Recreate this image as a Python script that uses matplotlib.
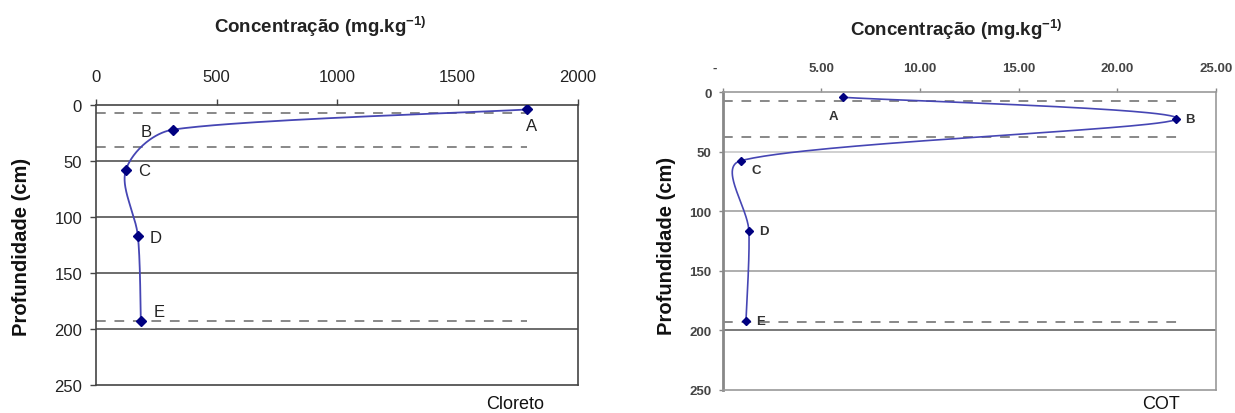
import numpy as np
import matplotlib
matplotlib.use('Agg')
import matplotlib.pyplot as plt

plt.rcParams['font.family'] = ['Liberation Sans', 'DejaVu Sans']
plt.rcParams['mathtext.default'] = 'regular'

# dados
point_labels = ['A', 'B', 'C', 'D', 'E']
cl_conc = [1790, 320, 124, 174, 186]
cl_depth = [4, 22, 58, 117.5, 193]
cot_conc = [6.1, 23.0, 0.92, 1.33, 1.18]
cot_depth = [4.2, 22.7, 57.5, 117, 192]
layer_depths = [7, 37.5, 193]
cl_layer_end = 1790
cot_layer_end = 23.1
depth_ticks = [0, 50, 100, 150, 200, 250]
cl_ticks = [0, 500, 1000, 1500, 2000]
cot_ticks = [0, 5, 10, 15, 20, 25]

W, H = 1235, 414
fig = plt.figure(figsize=(W / 100, H / 100), dpi=100)


def box(x0, y0, x1, y1):
    return [x0 / W, 1 - y1 / H, (x1 - x0) / W, (y1 - y0) / H]


def smooth_line(ax, xs, ys, n=60):
    # linha suavizada tipo Excel (catmull-rom em pixels, tangente limitada)
    pts = ax.transData.transform(np.column_stack([xs, ys]))
    m = len(pts)
    tang = [(pts[min(i + 1, m - 1)] - pts[max(i - 1, 0)]) / 6 for i in range(m)]
    t = np.linspace(0, 1, n)[:, None]
    out = []
    for i in range(m - 1):
        p0, p3 = pts[i], pts[i + 1]
        L = np.hypot(*(p3 - p0)) / 3
        a, b = tang[i], tang[i + 1]
        if np.hypot(*a) > L:
            a = a / np.hypot(*a) * L
        if np.hypot(*b) > L:
            b = b / np.hypot(*b) * L
        p1 = p0 + a
        p2 = p3 - b
        out.append((1 - t) ** 3 * p0 + 3 * (1 - t) ** 2 * t * p1
                   + 3 * (1 - t) * t ** 2 * p2 + t ** 3 * p3)
    return ax.transData.inverted().transform(np.vstack(out))


# ---------- Cloreto ----------
ax1 = fig.add_axes(box(96, 106, 578, 385.7))
ax1.set_xlim(0, 2000)
ax1.set_ylim(250, 0)
ax1.xaxis.tick_top()
ax1.set_xticks(cl_ticks)
ax1.set_yticks(depth_ticks)
ax1.tick_params(axis='x', direction='out', length=4, width=1, color='#444',
                labelsize=12, labelcolor='#222', pad=11)
ax1.tick_params(axis='y', direction='out', length=4, width=1, color='#444',
                labelsize=12, labelcolor='#222', pad=6)
for d in depth_ticks[1:-1]:
    ax1.axhline(d, color='#444', lw=1.1, zorder=1)
for s in ax1.spines.values():
    s.set_color('#444')
    s.set_linewidth(1.2)
for d in layer_depths:
    ax1.plot([0, cl_layer_end], [d, d], color='#888', lw=1.4,
             dashes=(5, 4.5), zorder=2)
xy = smooth_line(ax1, cl_conc, cl_depth)
ax1.plot(xy[:, 0], xy[:, 1], color='#4646b4', lw=1.3, zorder=3)
ax1.plot(cl_conc, cl_depth, 'D', color='#000080', ms=5, zorder=4)
cl_off = [(4, -16), (-27, -2), (18, -1), (18, -1), (18, 9)]
for lab, x, y, off in zip(point_labels, cl_conc, cl_depth, cl_off):
    ax1.annotate(lab, (x, y), xytext=off, textcoords='offset pixels',
                 ha='center', va='center', fontsize=12, color='#222')

# ---------- COT ----------
ax2 = fig.add_axes(box(722.7, 93.3, 1215.7, 390.7))
ax2.set_xlim(0, 25)
ax2.set_ylim(250, 0)
ax2.xaxis.tick_top()
ax2.set_xticks(cot_ticks)
ax2.set_xticklabels(['-    '] + ['%.2f' % v for v in cot_ticks[1:]])
ax2.set_yticks(depth_ticks)
ax2.tick_params(axis='x', direction='out', length=3, width=1, color='#888',
                labelsize=9.5, labelcolor='#444', pad=10)
ax2.tick_params(axis='y', direction='out', length=3, width=1, color='#888',
                labelsize=9.5, labelcolor='#444', pad=5)
for lab in ax2.get_xticklabels() + ax2.get_yticklabels():
    lab.set_fontweight('bold')
for d, c in zip(depth_ticks[1:-1], ['#c4c4c4', '#999', '#999', '#555']):
    ax2.axhline(d, color=c, lw=1.1, zorder=1)
for s in ax2.spines.values():
    s.set_color('#999')
    s.set_linewidth(1.2)
ax2.spines['left'].set_linewidth(2)
ax2.spines['left'].set_color('#888')
for d in layer_depths:
    ax2.plot([0, cot_layer_end], [d, d], color='#888', lw=1.4,
             dashes=(5, 4.5), zorder=2)
xy = smooth_line(ax2, cot_conc, cot_depth)
ax2.plot(xy[:, 0], xy[:, 1], color='#4646b4', lw=1.2, zorder=3)
ax2.plot(cot_conc, cot_depth, 'D', color='#000080', ms=4.5, zorder=4)
cot_off = [(-10, -19), (14, 0), (15, -9), (15, 0), (15, 0)]
for lab, x, y, off in zip(point_labels, cot_conc, cot_depth, cot_off):
    ax2.annotate(lab, (x, y), xytext=off, textcoords='offset pixels',
                 ha='center', va='center', fontsize=9.5, color='#333',
                 fontweight='bold')

# ---------- textos ----------
title = 'Concentração (mg.kg$^{-1)}$'
fig.text(320.5 / W, 1 - 27 / H, title, ha='center', va='center',
         fontsize=13.5, fontweight='bold', color='#222')
fig.text(956.5 / W, 1 - 30 / H, title, ha='center', va='center',
         fontsize=13.5, fontweight='bold', color='#222')
fig.text(21.5 / W, 1 - 247 / H, 'Profundidade (cm)', rotation=90,
         ha='center', va='center', fontsize=14.5, fontweight='bold',
         color='#111')
fig.text(666 / W, 1 - 246 / H, 'Profundidade (cm)', rotation=90,
         ha='center', va='center', fontsize=14.5, fontweight='bold',
         color='#111')
fig.text(515.5 / W, 1 - 405 / H, 'Cloreto', ha='center', va='center',
         fontsize=13, color='#111')
fig.text(1161 / W, 1 - 405 / H, 'COT', ha='center', va='center',
         fontsize=13, color='#111')

fig.savefig('out.png', dpi=100)
